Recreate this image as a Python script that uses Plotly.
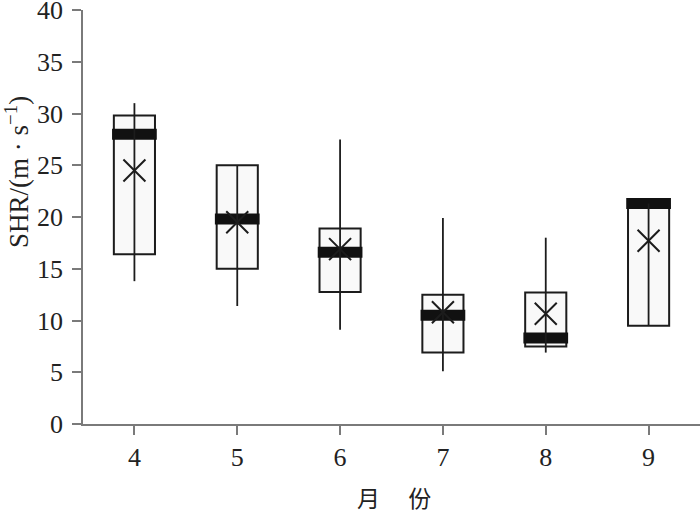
import plotly.graph_objects as go

months = ["4", "5", "6", "7", "8", "9"]
whisker_low = [13.8, 11.4, 9.1, 5.1, 6.9, 9.5]
q1 = [16.4, 15.0, 12.75, 6.9, 7.5, 9.5]
median = [28.0, 19.8, 16.6, 10.5, 8.3, 21.3]
q3 = [29.8, 25.0, 18.9, 12.5, 12.7, 21.3]
whisker_high = [31.0, 25.0, 27.5, 19.9, 18.0, 21.3]
mean = [24.5, 19.5, 16.9, 10.8, 10.65, 17.7]
y_ticks = [0, 5, 10, 15, 20, 25, 30, 35, 40]

INK = "#1c1c1c"
AXIS = "#7a7a7a"
FONT = "Liberation Serif"
MED_THICK = 1.06

fig = go.Figure()

# boxes (q1..q3)
fig.add_trace(go.Bar(
    x=months, y=[b - a for a, b in zip(q1, q3)], base=q1, width=0.40,
    marker=dict(color="#f9f9f9", line=dict(color=INK, width=2)),
    hoverinfo="skip", showlegend=False,
))

# whisker line through the box
wx, wy = [], []
for m, lo, hi in zip(months, whisker_low, whisker_high):
    wx += [m, m, None]
    wy += [lo, hi, None]
fig.add_trace(go.Scatter(x=wx, y=wy, mode="lines",
                         line=dict(color=INK, width=1.8),
                         hoverinfo="skip", showlegend=False))

# mean markers
fig.add_trace(go.Scatter(x=months, y=mean, mode="markers",
                         marker=dict(symbol="x-thin", size=22,
                                     line=dict(color=INK, width=2)),
                         hoverinfo="skip", showlegend=False))

# median thick bars
fig.add_trace(go.Bar(
    x=months, y=[MED_THICK] * len(months),
    base=[m - MED_THICK / 2 for m in median], width=0.435,
    marker=dict(color="#111111", line=dict(width=0)),
    hoverinfo="skip", showlegend=False,
))

fig.update_layout(
    width=700, height=511,
    margin=dict(l=83, r=0, t=10, b=87, autoexpand=False),
    paper_bgcolor="white", plot_bgcolor="white",
    barmode="overlay",
    font=dict(family=FONT, color="#222222", size=26),
    xaxis=dict(type="category", categoryorder="array", categoryarray=months,
               range=[-0.5, 5.5],
               showline=True, linecolor=AXIS, linewidth=1.5,
               ticks="outside", ticklen=9, tickcolor=AXIS, tickwidth=1.5,
               showgrid=False, zeroline=False, automargin=False,
               tickfont=dict(family=FONT, size=26, color="#222222")),
    yaxis=dict(range=[0, 40], tickvals=y_ticks,
               ticktext=[str(v) for v in y_ticks],
               showline=True, linecolor=AXIS, linewidth=1.5,
               ticks="outside", ticklen=9, tickcolor=AXIS, tickwidth=1.5,
               showgrid=False, zeroline=False, automargin=False,
               ticklabeloverflow="allow", ticklabelstandoff=4,
               tickfont=dict(family=FONT, size=26, color="#222222")),
    annotations=[
        dict(text="SHR/(m · s<sup>−1</sup>)", textangle=-90,
             xref="paper", yref="paper", x=(17 - 83) / 617, y=(424 - 172) / 414,
             xanchor="center", yanchor="middle", showarrow=False,
             font=dict(family=FONT, size=27, color="#222222")),
        dict(text="月　 份", xref="paper", yref="paper",
             x=(394 - 83) / 617, y=(424 - 497) / 414,
             xanchor="center", yanchor="middle", showarrow=False,
             font=dict(family="Noto Sans CJK SC", size=23, color="#222222")),
    ],
)

fig.write_html("out.html",
               config={"displayModeBar": False},
               post_script="document.body.style.margin='0px';"
                           "document.body.style.overflow='hidden';")
